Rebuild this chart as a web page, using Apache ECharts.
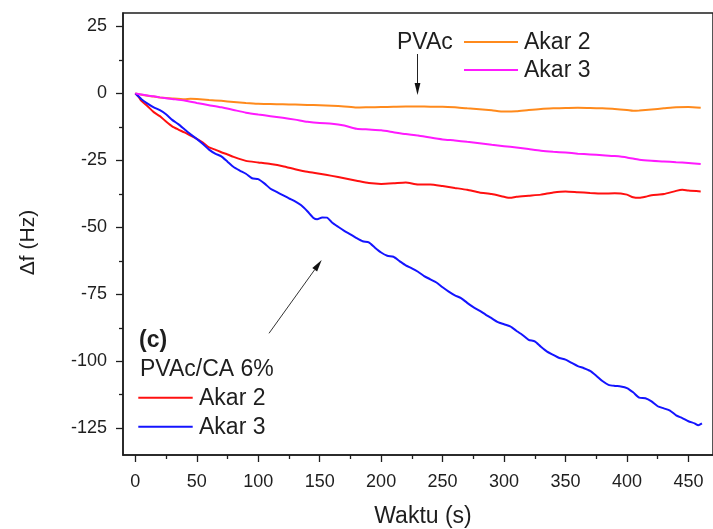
<!DOCTYPE html>
<html>
<head>
<meta charset="utf-8">
<script src="https://cdn.jsdelivr.net/npm/echarts@6/dist/echarts.min.js"></script>
<style>html,body{margin:0;padding:0;background:#fff}#c{width:713px;height:529px}</style>
</head>
<body>
<div id="c"></div>
<script>
// ---- data (time in s, frequency shift in Hz) ----
var pvacAkar2 = [[0,0],[5,-0.5],[10,-0.9],[15,-1.2],[20,-1.5],[30,-1.9],[40,-2.2],[45,-2.0],[50,-2.1],[60,-2.5],[70,-2.8],[80,-3.2],[90,-3.6],[100,-3.9],[110,-4.0],[120,-4.1],[130,-4.2],[140,-4.3],[150,-4.4],[160,-4.6],[170,-4.9],[180,-5.3],[190,-5.2],[200,-5.1],[210,-5.0],[220,-4.9],[230,-4.9],[240,-5.0],[250,-5.0],[260,-5.2],[270,-5.6],[280,-5.9],[290,-6.3],[300,-6.8],[310,-6.7],[320,-6.2],[330,-5.8],[340,-5.6],[350,-5.5],[360,-5.4],[370,-5.5],[380,-5.6],[390,-5.8],[400,-6.2],[405,-6.5],[410,-6.4],[420,-6.0],[430,-5.6],[440,-5.2],[450,-5.1],[460,-5.4]];
var pvacAkar3 = [[0,0],[5,-0.4],[10,-0.8],[15,-1.1],[20,-1.5],[30,-2.1],[40,-2.7],[50,-3.6],[60,-4.4],[70,-5.2],[80,-6.2],[90,-7.2],[100,-7.9],[110,-8.5],[120,-9.1],[130,-9.8],[140,-10.6],[150,-11.1],[160,-11.3],[170,-12.0],[180,-13.2],[190,-13.5],[200,-13.8],[210,-14.5],[220,-15.2],[230,-15.7],[240,-16.5],[250,-17.2],[260,-17.6],[270,-18.1],[280,-18.6],[290,-19.2],[300,-19.7],[310,-20.2],[320,-20.8],[330,-21.4],[340,-21.8],[350,-22.1],[360,-22.5],[370,-22.8],[380,-23.1],[390,-23.4],[400,-23.9],[410,-24.8],[420,-25.2],[430,-25.4],[440,-25.7],[450,-26.0],[460,-26.4]];
var caAkar2 = [[0,0],[3,-1.5],[5,-2.8],[10,-4.8],[15,-7.0],[20,-8.5],[25,-10.5],[30,-12.3],[35,-13.5],[40,-14.6],[45,-15.8],[50,-17.0],[55,-18.4],[60,-20.2],[65,-21.0],[70,-22.0],[75,-22.8],[80,-23.7],[90,-25.2],[100,-25.8],[110,-26.4],[120,-27.2],[130,-28.3],[140,-29.3],[150,-30.0],[160,-30.8],[170,-31.7],[180,-32.6],[190,-33.5],[200,-33.8],[210,-33.6],[220,-33.3],[230,-34.0],[240,-34.0],[250,-34.6],[260,-35.3],[270,-36.0],[280,-37.0],[290,-37.6],[300,-38.6],[305,-39.0],[310,-38.6],[320,-38.2],[330,-37.8],[340,-37.0],[350,-36.6],[360,-36.9],[370,-37.2],[380,-37.4],[390,-37.3],[400,-37.8],[405,-38.8],[410,-39.0],[415,-38.6],[420,-38.0],[430,-37.6],[440,-36.4],[445,-36.0],[450,-36.3],[460,-36.6]];
var caAkar3 = [[0,0],[3,-1.3],[5,-2.2],[10,-3.8],[15,-5.2],[20,-6.3],[25,-7.8],[30,-9.9],[35,-11.5],[40,-13.4],[45,-15.3],[50,-17.0],[55,-18.9],[60,-21.0],[65,-22.5],[70,-23.5],[75,-25.5],[80,-27.5],[85,-28.8],[90,-30.0],[95,-31.7],[100,-32.0],[105,-33.6],[110,-35.6],[115,-36.8],[120,-38.0],[125,-39.2],[130,-40.3],[135,-41.8],[140,-44.0],[145,-46.5],[148,-47.0],[152,-46.3],[156,-46.4],[160,-48.2],[165,-49.8],[170,-51.3],[175,-52.6],[180,-54.0],[185,-55.2],[190,-55.6],[195,-57.6],[200,-59.4],[205,-60.6],[210,-61.0],[215,-62.6],[220,-64.2],[225,-65.3],[230,-66.6],[235,-68.2],[240,-69.4],[245,-70.6],[250,-72.4],[255,-74.0],[260,-75.4],[265,-76.4],[270,-78.2],[275,-79.8],[280,-81.1],[285,-82.6],[290,-84.0],[295,-85.4],[300,-86.2],[305,-87.0],[310,-88.6],[315,-90.2],[320,-92.0],[325,-92.6],[330,-94.6],[335,-96.4],[340,-97.6],[345,-98.8],[350,-99.4],[355,-100.6],[360,-101.8],[365,-102.6],[370,-103.6],[375,-105.4],[380,-107.4],[385,-108.8],[390,-109.2],[395,-109.4],[400,-110.0],[405,-111.6],[410,-113.6],[415,-113.8],[420,-115.0],[425,-116.8],[430,-117.6],[435,-118.4],[440,-120.2],[445,-121.2],[450,-122.4],[455,-123.2],[458,-123.9],[461,-123.2]];

var xTicks = [0,50,100,150,200,250,300,350,400,450];
var xMinorTicks = [25,75,125,175,225,275,325,375,425];
var yTicks = [-125,-100,-75,-50,-25,0,25];
var yMinorTicks = [-112.5,-87.5,-62.5,-37.5,-12.5,12.5];

var seriesNames = ['PVAc Akar 2','PVAc Akar 3','PVAc/CA 6% Akar 2','PVAc/CA 6% Akar 3'];
var seriesColors = ['#ff8a1c','#ff1aff','#ff1010','#1414ff'];
var seriesData = [pvacAkar2, pvacAkar3, caAkar2, caAkar3];

var FONT = '"Liberation Sans", Arial, sans-serif';
var INK = '#1e1e1e';

var chart = echarts.init(document.getElementById('c'), null, {renderer:'canvas'});

function axisCommon(min, max, majors, minors, isX, idx) {
  return {
    type:'value', min:min, max:max, scale:false,
    gridIndex:0,
    position: isX ? 'bottom' : 'left',
    splitLine:{show:false},
    axisLine:{show: idx===0, onZero:false, lineStyle:{color:INK, width:1.5}},
    axisTick:{show:true, inside:false, length: idx===0 ? 7 : 4,
      customValues: idx===0 ? majors : minors,
      lineStyle:{color:INK, width:1.3}},
    axisLabel:{show: idx===0, customValues: majors, color:INK,
      fontFamily:FONT, fontSize:18, margin: isX ? 18 : 16}
  };
}

var series = seriesData.map(function(d, i){
  return {
    name: seriesNames[i], type:'line', data:d, showSymbol:false, smooth:0.2,
    xAxisIndex:0, yAxisIndex:0,
    lineStyle:{color:seriesColors[i], width:2}, itemStyle:{color:seriesColors[i]},
    z: 3 + (i===1 ? 1 : 0)
  };
});

function txt(x, y, s, opts) {
  opts = opts || {};
  return {type:'text', x:x, y:y, rotation: opts.rot || 0, z:100,
    style:{text:s, fill:INK, font:(opts.bold?'bold ':'') + (opts.size||23) + 'px ' + FONT,
      textAlign: opts.align || 'left', textVerticalAlign:'middle'}};
}
function seg(x1,y1,x2,y2,color,w) {
  return {type:'line', z:100, shape:{x1:x1,y1:y1,x2:x2,y2:y2}, style:{stroke:color, lineWidth:w}};
}
function head(pts) {
  return {type:'polygon', z:100, shape:{points:pts}, style:{fill:'#111'}};
}

var graphics = [
  txt(28.5, 242.5, 'Δf (Hz)', {rot:Math.PI/2, align:'center', size:21}),
  txt(423, 517, 'Waktu (s)', {align:'center', size:23}),
  txt(397, 42.5, 'PVAc'),
  seg(464, 42, 518, 42, seriesColors[0], 2),
  txt(524, 42.5, 'Akar 2'),
  seg(464, 70, 518, 70, seriesColors[1], 2),
  txt(524, 70.5, 'Akar 3'),
  seg(417.5, 54, 417.5, 84, '#222', 1),
  head([[414.6,83],[420.4,83],[417.5,95]]),
  seg(269, 333.3, 314.7, 269.7, '#333', 1),
  head([[317.1,271.5],[312.3,267.9],[321.7,260]]),
  txt(139, 341, '(c)', {bold:true}),
  txt(140, 369.5, 'PVAc/CA 6%'),
  seg(138.3, 397.7, 192.7, 397.7, seriesColors[2], 2),
  txt(199, 398.5, 'Akar 2'),
  seg(138.3, 426.7, 192.7, 426.7, seriesColors[3], 2),
  txt(199, 427.5, 'Akar 3')
];

chart.setOption({
  animation:false,
  backgroundColor:'#fff',
  grid:{left:123, top:13, width:593, height:442, show:true, borderColor:INK, borderWidth:1.5, backgroundColor:'transparent'},
  xAxis:[axisCommon(-10, 470, xTicks, xMinorTicks, true, 0), axisCommon(-10, 470, xTicks, xMinorTicks, true, 1)],
  yAxis:[axisCommon(-135, 30, yTicks, yMinorTicks, false, 0), axisCommon(-135, 30, yTicks, yMinorTicks, false, 1)],
  series: series,
  graphic: graphics
});
</script>
</body>
</html>
